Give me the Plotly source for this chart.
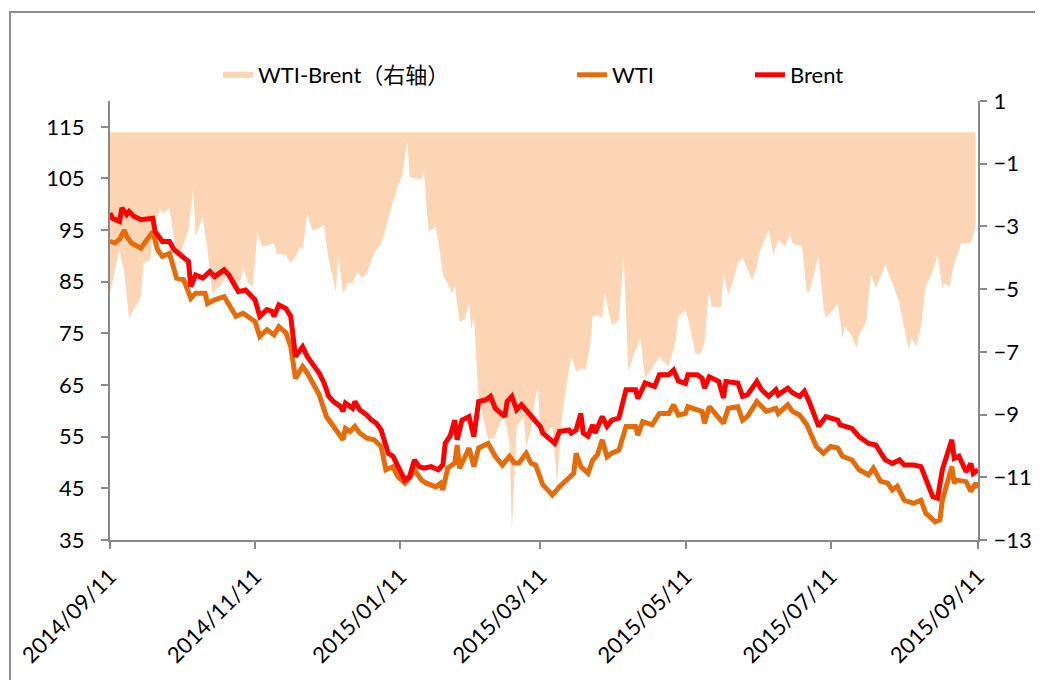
import pandas as pd
import plotly.graph_objects as go

BASE = pd.Timestamp("2014-09-11")

# Days since 2014-09-11 and values
spread_days = [0, 2, 4, 6, 8, 13, 14, 17, 18, 21, 22, 25, 27, 29, 31, 33, 35, 36, 39, 41,
               43, 46, 49, 52, 55, 56, 58, 60, 62, 64, 67, 69, 70, 74, 76, 77, 78, 80, 81, 83,
               85, 88, 90, 92, 95, 96, 98, 100, 102, 104, 106, 108, 111, 114, 116, 118, 121, 123, 125, 126,
               127, 130, 131, 132, 134, 137, 138, 140, 144, 145, 147, 149, 151, 152, 153, 155, 158, 159, 161, 162,
               164, 166, 168, 169, 171, 174, 175, 177, 179, 180, 181, 184, 186, 188, 190, 193, 194, 196, 198, 200,
               202, 203, 205, 207, 208, 211, 214, 216, 218, 220, 223, 225, 228, 231, 232, 235, 238, 239, 242, 244,
               246, 248, 250, 251, 252, 253, 256, 257, 258, 260, 262, 264, 266, 268, 270, 272, 273, 277, 279, 281,
               284, 286, 287, 291, 293, 294, 295, 298, 300, 301, 304, 306, 307, 308, 309, 312, 314, 315, 318, 320,
               322, 326, 329, 332, 334, 336, 337, 339, 341, 343, 346, 348, 350, 351, 353, 355, 357, 358, 361, 362,
               364]
spread = [-5.13, -4.39, -3.75, -4.49, -5.93, -5.24, -4.17, -4.07, -3.17, -2.42, -2.58, -2.42, -3.43, -3.96, -3.54, -3.11, -1.78, -3.33, -2.69, -3.75,
          -5.13, -4.92, -4.60, -5.03, -4.71, -4.28, -4.81, -4.92, -3.22, -3.64, -3.59, -3.54, -3.86, -3.91, -4.17, None, -3.96, -3.64, -3.75, -2.58,
          -3.11, -3.06, -2.95, -4.07, -5.08, -3.96, -5.13, -4.81, -4.81, -4.44, -4.65, -4.49, -3.86, -3.54, -3.06, -2.47, -1.73, -1.36, -0.24, -1.41,
          -1.45, None, -1.50, -1.25, -3.17, -3.01, -3.43, -4.55, -5.13, -4.87, -6.04, -5.98, -5.50, -6.30, -5.82, -8.45, None, -9.80, -9.75, -9.70,
          -9.27, -9.07, -9.90, -12.68, -9.40, -9.07, -10.02, -9.50, -8.43, -8.11, -9.70, -9.54, -9.38, -11.19, -9.07, -7.58, -7.15, -7.63, -7.52, -7.58,
          -6.73, -5.88, -5.82, -5.93, -5.13, -6.14, -5.98, -3.96, -7.63, -7.15, -6.57, -7.84, -7.52, -7.15, -7.26, -7.47, -6.62, -5.88, -5.66, -6.19,
          -7.04, -7.10, -6.73, -5.82, -5.03, -5.55, None, -5.58, -4.50, -5.18, -4.76, -4.17, -4.01, -4.33, -4.71, -4.28, -3.86, -3.11, -3.91, -3.43,
          -3.64, -3.22, -3.54, -3.64, -5.08, -5.10, None, -3.96, -5.56, -5.93, -5.66, -5.45, -5.98, -6.57, -6.20, -6.51, -6.88, -6.46, -6.03, -4.54,
          -4.98, -4.23, -4.81, -5.45, -6.25, -6.94, -6.51, -6.83, -6.20, -4.92, -4.44, -3.91, -4.97, -4.81, -4.92, -4.17, -3.75, -3.54, None, -3.54,
          -3.00]

brent_days = [0, 1, 4, 5, 7, 8, 10, 13, 18, 19, 22, 25, 27, 30, 33, 34, 36, 39, 42, 44,
              48, 50, 54, 57, 61, 63, 66, 68, 69, 71, 74, 76, 78, 81, 83, 85, 88, 90, 92, 94,
              97, 98, 99, 102, 103, 105, 108, 110, 112, 114, 117, 119, 122, 124, 126, 128, 130, 132, 135, 138,
              140, 141, 143, 145, 146, 148, 151, 153, 155, 158, 160, 162, 166, 167, 169, 171, 173, 175, 179, 181,
              182, 185, 187, 189, 193, 194, 196, 198, 199, 201, 203, 204, 207, 209, 211, 214, 217, 221, 222, 225,
              229, 231, 235, 237, 239, 242, 243, 247, 249, 250, 252, 256, 258, 259, 264, 266, 268, 272, 274, 277,
              280, 281, 285, 287, 290, 292, 294, 298, 301, 306, 307, 312, 315, 319, 322, 326, 329, 332, 334, 338,
              341, 346, 348, 350, 354, 355, 357, 360, 362, 363, 365]
brent = [98.3, 97.3, 96.7, 99.3, 98.0, 98.6, 97.7, 97.0, 97.3, 94.7, 92.8, 92.8, 91.2, 89.9, 88.9, 84.1, 86.3, 85.7, 87.0, 86.0,
         87.3, 86.3, 83.1, 83.4, 81.5, 78.3, 79.6, 79.3, 78.3, 80.5, 79.8, 78.3, 70.5, 72.4, 70.5, 69.2, 67.3, 65.4, 62.8, 61.8,
         60.8, 59.9, 61.5, 60.5, 61.8, 60.2, 59.2, 58.2, 57.6, 56.3, 51.8, 51.2, 48.6, 46.6, 47.3, 50.5, 49.2, 48.9, 49.2, 48.6,
         49.6, 53.8, 55.1, 58.2, 54.4, 58.2, 58.9, 55.0, 61.8, 62.1, 62.8, 60.5, 58.9, 61.8, 62.8, 60.2, 61.2, 60.2, 58.2, 56.9,
         55.7, 54.4, 53.7, 56.0, 56.3, 55.7, 56.3, 59.5, 55.7, 55.1, 57.3, 55.7, 58.9, 57.0, 58.2, 58.6, 64.1, 64.1, 62.4, 65.4,
         64.7, 67.0, 67.0, 67.9, 65.8, 65.3, 67.0, 67.0, 66.3, 64.4, 66.6, 65.7, 62.5, 65.7, 65.4, 62.8, 63.1, 65.7, 64.1, 62.8,
         64.1, 63.1, 64.4, 63.5, 62.8, 63.8, 61.8, 57.0, 58.9, 58.2, 57.3, 56.6, 55.0, 53.7, 53.4, 50.5, 49.8, 50.5, 49.5, 49.5,
         49.2, 43.4, 43.1, 48.6, 54.4, 50.8, 51.2, 48.2, 49.8, 47.9, 48.6]

wti_days = [0, 2, 4, 6, 7, 9, 13, 15, 18, 20, 22, 25, 28, 31, 34, 36, 40, 41, 44, 48,
            50, 53, 56, 61, 63, 66, 69, 71, 74, 76, 78, 81, 83, 86, 88, 91, 94, 96, 98, 99,
            101, 103, 105, 108, 111, 114, 116, 119, 121, 124, 126, 128, 131, 133, 137, 139, 140, 142, 145, 146,
            147, 151, 153, 155, 159, 162, 165, 168, 170, 172, 175, 177, 179, 182, 186, 189, 193, 195, 196, 198,
            201, 203, 205, 207, 209, 211, 214, 217, 221, 222, 224, 228, 231, 235, 237, 239, 242, 243, 247, 249,
            250, 252, 258, 260, 264, 266, 268, 272, 276, 280, 281, 285, 287, 290, 293, 297, 300, 303, 306, 308,
            312, 315, 319, 321, 324, 327, 329, 331, 334, 338, 341, 343, 347, 349, 350, 354, 355, 356, 360, 362,
            364, 365]
wti = [92.8, 92.5, 93.2, 95.0, 93.8, 92.5, 91.5, 92.8, 94.7, 91.2, 89.9, 90.5, 85.7, 85.4, 81.8, 82.8, 82.8, 80.8, 81.5, 82.1,
       80.5, 78.3, 78.9, 77.3, 74.4, 75.7, 74.7, 76.3, 75.1, 72.5, 66.3, 68.6, 67.3, 64.7, 63.1, 58.9, 57.0, 56.0, 54.4, 56.6,
       56.0, 57.0, 55.7, 54.7, 54.4, 53.1, 48.6, 49.2, 47.3, 46.0, 47.0, 48.6, 46.6, 46.0, 45.3, 46.0, 44.7, 48.9, 49.9, 53.4,
       48.9, 52.8, 49.2, 52.8, 53.7, 51.2, 49.5, 51.2, 49.9, 49.9, 51.8, 49.9, 49.5, 45.7, 43.7, 45.3, 47.0, 47.9, 51.8, 49.2,
       47.9, 50.5, 51.5, 54.4, 51.1, 51.8, 52.4, 57.0, 57.0, 55.3, 57.9, 57.3, 59.5, 59.5, 61.2, 59.2, 59.5, 60.8, 60.2, 59.9,
       57.6, 60.8, 57.6, 60.5, 60.8, 58.2, 58.9, 61.8, 59.9, 60.5, 59.5, 61.2, 59.9, 59.2, 57.3, 53.1, 51.8, 53.1, 52.8, 51.2,
       50.5, 48.6, 47.6, 48.9, 46.4, 46.0, 44.7, 45.4, 42.7, 42.1, 42.7, 40.2, 38.5, 38.9, 42.7, 49.2, 46.0, 46.6, 46.3, 44.4,
       46.0, 45.1]

tick_dates = ["2014-09-11", "2014-11-11", "2015-01-11", "2015-03-11", "2015-05-11", "2015-07-11", "2015-09-11"]
tick_labels = ["2014/09/11", "2014/11/11", "2015/01/11", "2015/03/11", "2015/05/11", "2015/07/11", "2015/09/11"]
left_ticks = [35, 45, 55, 65, 75, 85, 95, 105, 115]
right_ticks = [-13, -11, -9, -7, -5, -3, -1, 1]

assert len(spread_days) == len(spread)
assert len(brent_days) == len(brent)
assert len(wti_days) == len(wti)


def to_dates(days):
    return [BASE + pd.Timedelta(days=d) for d in days]


FONT = "Lato, 'Noto Sans CJK SC', sans-serif"
AXIS_GRAY = "#898989"

fig = go.Figure()
fig.add_trace(go.Scatter(
    x=to_dates(spread_days), y=spread, name="WTI-Brent（右轴）",
    mode="none", fill="tozeroy", fillcolor="#FCD5B5", yaxis="y", legend="legend",
    connectgaps=False,
))
fig.add_trace(go.Scatter(
    x=to_dates(wti_days), y=wti, name="WTI", mode="lines",
    line=dict(color="#E46C0A", width=5), yaxis="y2", legend="legend2",
))
fig.add_trace(go.Scatter(
    x=to_dates(brent_days), y=brent, name="Brent", mode="lines",
    line=dict(color="#FF0000", width=5), yaxis="y2", legend="legend3",
))

# page has an 8px body margin: work in page pixels and convert
OFF = 8
W, H = 1043 - OFF, 680 - OFF
PL, PR, PT, PB = 110, 978, 101, 540          # plot box in page pixels
L, T = PL - OFF, PT - OFF
R, B = W - (PR - OFF), H - (PB - OFF)
pw, ph = PR - PL, PB - PT


def px_x(p):
    return (p - PL) / pw


def px_y(p):
    return (PB - p) / ph


legend_common = dict(orientation="h", yanchor="middle", xanchor="left",
                     font=dict(family=FONT, size=22, color="#000000"),
                     bgcolor="rgba(0,0,0,0)", borderwidth=0)

axis_common = dict(showgrid=False, zeroline=False, showline=True, linecolor=AXIS_GRAY, linewidth=2,
                   ticks="outside", ticklen=7, tickwidth=2, tickcolor=AXIS_GRAY,
                   tickfont=dict(family=FONT, size=22, color="#000000"))

fig.update_layout(
    width=W, height=H,
    margin=dict(l=L, r=R, t=T, b=B, autoexpand=False),
    paper_bgcolor="white", plot_bgcolor="white",
    font=dict(family=FONT, size=22, color="#000000"),
    showlegend=True,
    legend=dict(x=px_x(218), y=px_y(75), **legend_common),
    legend2=dict(x=px_x(572), y=px_y(75), **legend_common),
    legend3=dict(x=px_x(750), y=px_y(75), **legend_common),
    xaxis=dict(type="date", range=["2014-09-11", "2015-09-11"],
               tickvals=tick_dates, ticktext=tick_labels, tickangle=-45,
               ticklabelstandoff=6, **axis_common),
    yaxis=dict(side="right", range=[-13, 1], tickvals=right_ticks,
               ticklabelstandoff=2, **axis_common),
    yaxis2=dict(side="left", overlaying="y", range=[35, 120], tickvals=left_ticks,
                ticklabelstandoff=12, **axis_common),
)

# outer chart border
fig.add_shape(type="path", xref="paper", yref="paper",
              path=f"M {px_x(10)},{px_y(800)} L {px_x(10)},{px_y(12)} L {px_x(1100)},{px_y(12)}",
              line=dict(color="#8C8C8C", width=2))

fig.write_html("out.html")
